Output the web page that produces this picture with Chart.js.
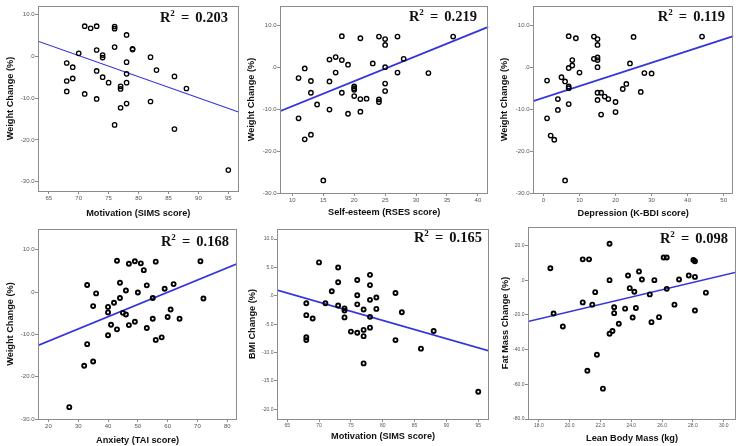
<!DOCTYPE html>
<html><head><meta charset="utf-8">
<script src="https://cdn.jsdelivr.net/npm/chart.js@4.4.1/dist/chart.umd.min.js"></script>
<style>
html,body{margin:0;padding:0;background:#fff;width:742px;height:446px;overflow:hidden;position:relative;}
canvas{position:absolute;}
.r2{position:absolute;font-family:'Liberation Serif','Times New Roman',serif;font-weight:bold;font-size:14.5px;line-height:16px;height:16px;color:#111;white-space:nowrap;text-align:right;word-spacing:2.5px;}
.r2 sup{font-size:9px;vertical-align:6px;line-height:0;}
</style></head><body>
<script>
// ---------- DATA ----------
// Panel 1: Motivation (SIMS) vs Weight change
const motivationW = [71,72,73,76,76,78,70,73,74,74,76,79,79,82,68,69,73,78,83,68,69,74,75,78,78,77,77,86,88,68,71,73,82,77,78,76,86,95];
const weightChg1  = [7.2,6.7,7.2,7.1,6.6,5.1,0.7,1.5,0.3,-0.3,2.2,1.8,1.6,-0.2,-1.6,-2.6,-3.5,-1.4,-3.3,-5.9,-5.3,-5.0,-6.3,-4.2,-6.3,-7.2,-7.8,-4.8,-7.7,-8.4,-9.0,-10.2,-10.8,-12.3,-11.3,-16.4,-17.4,-27.2];
// Panel 2: Self-esteem (RSES) vs Weight change
const selfEsteem  = [11,12,13,13,14,11,12,13,15,16,16,16,17,17,18,18,18,19,19,20,20,20,20,21,21,21,22,23,24,24,24,25,25,25,25,25,27,27,28,32,36];
const weightChg2  = [-2.6,-0.3,-3.3,-6.1,-8.9,-12.2,-17.2,-16.1,-27.0,1.8,-3.4,-10.1,2.4,-1.3,7.4,1.7,-6.1,0.6,-11.1,-4.6,-5.0,-5.4,-6.9,6.9,-7.6,-10.6,-7.5,0.9,7.3,-7.7,-8.3,6.7,5.3,0.0,-3.9,-5.7,7.3,-1.3,2.0,-1.4,7.3];
// Panel 3: Depression (K-BDI) vs Weight change
const depression  = [1,1,2,3,4,4,5,6,6,7,7,7,7,7,8,8,9,10,14,14,15,15,15,15,15,15,15,16,16,17,18,20,20,22,23,24,25,27,28,30,44];
const weightChg3  = [-3.2,-12.2,-16.3,-17.3,-7.6,-10.2,-2.4,-3.4,-27.0,7.4,-0.2,-4.6,-5.0,-8.8,1.7,0.4,6.9,-1.3,7.3,2.0,6.7,5.3,2.3,1.7,0.0,-6.1,-7.8,-6.1,-11.3,-7.0,-7.6,-8.3,-10.7,-5.2,-4.0,0.9,7.2,-5.9,-1.4,-1.5,7.3];
// Panel 4: Anxiety (TAI) vs Weight change
const anxiety     = [33,36,35,33,32,35,27,40,40,40,41,42,43,43,44,44,45,46,46,47,47,49,49,51,52,50,53,53,55,55,56,56,58,59,60,61,62,64,71,72];
const weightChg4  = [1.7,-0.3,-3.3,-12.3,-17.4,-16.4,-27.2,-3.5,-4.8,-10.2,-7.7,-2.5,7.4,-8.8,2.2,-1.4,-4.9,0.4,-5.3,6.7,-7.8,7.3,-7.0,6.8,5.2,-0.1,1.6,-8.5,-1.4,-6.3,7.2,-11.3,-10.7,0.8,-5.9,-4.1,1.9,-6.3,7.3,-1.5];
// Panel 5: Motivation (SIMS) vs BMI change
const motivationB = [70,73,73,72,71,68,68,68,68,69,73,74,74,74,75,76,76,76,76,77,77,77,77,78,78,78,78,78,79,79,82,82,83,86,88,95];
const bmiChg      = [5.9,5.0,2.4,0.8,-1.3,-1.3,-3.4,-7.3,-7.8,-4.0,-1.7,-2.2,-2.6,-3.8,-6.3,2.8,0.1,-1.5,-6.5,-2.4,-6.0,-7.1,-11.9,3.7,1.9,-0.7,-3.7,-5.6,-0.3,-2.3,0.5,-7.8,-2.9,-9.3,-6.2,-16.9];
// Panel 6: Lean body mass vs Fat mass change
const leanMass    = [18.75,18.96,19.56,20.85,21.26,20.85,21.47,21.66,21.15,21.77,22.16,22.59,22.59,22.59,22.78,22.89,22.89,23.19,23.6,23.79,23.9,24.09,24.2,24.3,24.5,24.69,25.2,25.31,25.5,25.8,26.1,26.3,26.3,26.8,27.1,27.73,28.03,28.13,28.13,28.13,28.84];
const fatMassChg  = [6.9,-19.2,-26.7,12.0,12.0,-12.8,-14.1,-6.9,-52.2,-43.0,-62.5,21.0,0.0,-30.9,-29.3,-15.6,-19.0,-25.1,-16.4,2.7,-4.6,-21.5,-6.7,-16.0,5.0,0.4,-8.2,-24.2,0.0,-21.3,13.1,13.1,-5.0,-14.1,0.4,2.7,11.6,10.9,1.9,-17.5,-7.2];

// Regression line end points (x at the axis edges, y)
const fit1X = [63.2, 96.7],  fit1Y = [3.6, -13.3];
const fit2X = [8.0, 41.7],   fit2Y = [-10.5, 9.6];
const fit3X = [-2.9, 52.7],  fit3Y = [-8.1, 7.4];
const fit4X = [16.5, 83.3],  fit4Y = [-12.6, 6.7];
const fit5X = [63.4, 96.7],  fit5Y = [1.0, -9.7];
const fit6X = [17.3, 30.8],  fit6Y = [-23.8, 4.6];

// R squared labels
const r2Values = ['0.203', '0.219', '0.119', '0.168', '0.165', '0.098'];

// Axis titles
const xTitles = ['Motivation (SIMS score)', 'Self-esteem (RSES score)', 'Depression (K-BDI score)', 'Anxiety (TAI score)', 'Motivation (SIMS score)', 'Lean Body Mass (kg)'];
const yTitles = ['Weight Change (%)', 'Weight Change (%)', 'Weight Change (%)', 'Weight Change (%)', 'BMI Change (%)', 'Fat Mass Change (%)'];

// Tick values and labels
const wTicks = [10, 0, -10, -20, -30];
const wLabels = ['10.0', '.0', '-10.0', '-20.0', '-30.0'];
const motTicks = [65, 70, 75, 80, 85, 90, 95];
const motLabels = ['65', '70', '75', '80', '85', '90', '95'];
const rsesTicks = [10, 15, 20, 25, 30, 35, 40];
const rsesLabels = ['10', '15', '20', '25', '30', '35', '40'];
const bdiTicks = [0, 10, 20, 30, 40, 50];
const bdiLabels = ['0', '10', '20', '30', '40', '50'];
const taiTicks = [20, 30, 40, 50, 60, 70, 80];
const taiLabels = ['20', '30', '40', '50', '60', '70', '80'];
const bmiTicks = [10, 5, 0, -5, -10, -15, -20];
const bmiLabels = ['10.0', '5.0', '.0', '-5.0', '-10.0', '-15.0', '-20.0'];
const lbmTicks = [18, 20, 22, 24, 26, 28, 30];
const lbmLabels = ['18.0', '20.0', '22.0', '24.0', '26.0', '28.0', '30.0'];
const fatTicks = [20, 0, -20, -40, -60, -80];
const fatLabels = ['20.0', '.0', '-20.0', '-40.0', '-60.0', '-80.0'];

// ---------- LAYOUT / STYLE ----------
const panels = [
  {xs: motivationW, ys: weightChg1, fx: fit1X, fy: fit1Y, xt: motTicks, xl: motLabels, yt: wTicks, yl: wLabels,
   L:38, T:4, R:240, B:191, xMin:63.2, xMax:96.7, yMin:-32.2, yMax:12.0, ytp:0.5, xtp:2.5, tf:6, pr:2.2, pbw:1.3, lw:1.1, r2R:228, r2Y:17},
  {xs: selfEsteem, ys: weightChg2, fx: fit2X, fy: fit2Y, xt: rsesTicks, xl: rsesLabels, yt: wTicks, yl: wLabels,
   L:280, T:4, R:490, B:193, xMin:8.0, xMax:41.7, yMin:-30, yMax:14.56, ytp:0.2, xtp:5.2, tf:6, pr:2.2, pbw:1.4, lw:1.8, r2R:477, r2Y:16},
  {xs: depression, ys: weightChg3, fx: fit3X, fy: fit3Y, xt: bdiTicks, xl: bdiLabels, yt: wTicks, yl: wLabels,
   L:533, T:4, R:735, B:193, xMin:-2.9, xMax:52.7, yMin:-30, yMax:14.56, ytp:0, xtp:3.9, tf:6, pr:2.2, pbw:1.4, lw:1.8, r2R:725, r2Y:16},
  {xs: anxiety, ys: weightChg4, fx: fit4X, fy: fit4Y, xt: taiTicks, xl: taiLabels, yt: wTicks, yl: wLabels,
   L:38, T:227, R:239, B:419, xMin:16.5, xMax:83.3, yMin:-30, yMax:14.9, ytp:0.9, xtp:2.8, tf:6, pr:2.0, pbw:1.9, lw:1.8, r2R:229, r2Y:241},
  {xs: motivationB, ys: bmiChg, fx: fit5X, fy: fit5Y, xt: motTicks, xl: motLabels, yt: bmiTicks, yl: bmiLabels,
   L:277, T:227, R:491, B:419, xMin:63.4, xMax:96.7, yMin:-21.7, yMax:11.8, ytp:3.5, xtp:6.8, tf:5, pr:2.0, pbw:1.9, lw:1.8, r2R:482, r2Y:237},
  {xs: leanMass, ys: fatMassChg, fx: fit6X, fy: fit6Y, xt: lbmTicks, xl: lbmLabels, yt: fatTicks, yl: fatLabels,
   L:528, T:225, R:738, B:419, xMin:17.3, xMax:30.8, yMin:-80, yMax:30.7, ytp:6.2, xtp:5.2, tf:5, pr:2.0, pbw:1.9, lw:1.6, r2R:728, r2Y:238}
];

const boxPlugin = {
  id: 'box',
  afterDatasetsDraw(chart) {
    const {ctx, chartArea: a} = chart;
    ctx.save();
    ctx.strokeStyle = '#8c8c8c';
    ctx.lineWidth = 1;
    ctx.strokeRect(Math.round(a.left) + 0.5, Math.round(a.top) + 0.5, Math.round(a.right - a.left) - 1, Math.round(a.bottom - a.top));
    ctx.restore();
  }
};

const FONT = "'Liberation Sans', Arial, sans-serif";
const YW = 34, XH = 30, PADT = 2, PADR = 2;

panels.forEach((p, i) => {
  const w = (p.R - p.L) + YW + PADR;
  const h = (p.B - p.T) + PADT + XH;
  const cv = document.createElement('canvas');
  cv.width = w; cv.height = h;
  cv.style.left = (p.L - YW) + 'px';
  cv.style.top = (p.T - PADT) + 'px';
  cv.style.width = w + 'px';
  cv.style.height = h + 'px';
  document.body.appendChild(cv);

  const pts = p.xs.map((x, k) => ({x: x, y: p.ys[k]}));
  const fit = p.fx.map((x, k) => ({x: x, y: p.fy[k]}));
  const gridOpts = {display: true, drawOnChartArea: false, drawTicks: true, tickLength: 3, color: '#8c8c8c', lineWidth: 1};

  new Chart(cv, {
    type: 'scatter',
    data: {datasets: [
      {data: fit, showLine: true, borderColor: '#3434dc', borderWidth: p.lw, pointRadius: 0, pointHoverRadius: 0, order: 2},
      {data: pts, pointStyle: 'circle', pointRadius: p.pr, pointHoverRadius: p.pr, borderColor: '#000', backgroundColor: 'rgba(0,0,0,0)', borderWidth: p.pbw, order: 1}
    ]},
    options: {
      responsive: false, animation: false, devicePixelRatio: 1, events: [],
      layout: {padding: {left: 0, right: PADR, top: PADT, bottom: 0}},
      plugins: {legend: {display: false}, tooltip: {enabled: false}},
      scales: {
        x: {
          type: 'linear', min: p.xMin, max: p.xMax,
          afterFit: s => { s.height = XH; },
          afterBuildTicks: s => { s.ticks = p.xt.map(v => ({value: v})); },
          grid: gridOpts, border: {display: false},
          ticks: {autoSkip: false, maxRotation: 0, padding: 1, color: '#555', font: {family: FONT, size: p.tf},
                  callback: v => p.xl[p.xt.indexOf(v)]},
          title: {display: true, text: xTitles[i], color: '#111', font: {family: FONT, weight: 'bold', size: 9.2},
                  padding: {top: 0, bottom: p.xtp}}
        },
        y: {
          type: 'linear', min: p.yMin, max: p.yMax,
          afterFit: s => { s.width = YW; },
          afterBuildTicks: s => { s.ticks = p.yt.map(v => ({value: v})); },
          grid: gridOpts, border: {display: false},
          ticks: {autoSkip: false, padding: 0.5, color: '#555', font: {family: FONT, size: p.tf},
                  callback: v => p.yl[p.yt.indexOf(v)]},
          title: {display: true, text: yTitles[i], color: '#111', font: {family: FONT, weight: 'bold', size: 9.2},
                  padding: {top: p.ytp, bottom: 0}}
        }
      }
    },
    plugins: [boxPlugin]
  });

  const d = document.createElement('div');
  d.className = 'r2';
  d.style.right = (742 - p.r2R) + 'px';
  d.style.top = (p.r2Y - 8) + 'px';
  d.innerHTML = 'R<sup>2</sup> = ' + r2Values[i];
  document.body.appendChild(d);
});
</script>
</body></html>
